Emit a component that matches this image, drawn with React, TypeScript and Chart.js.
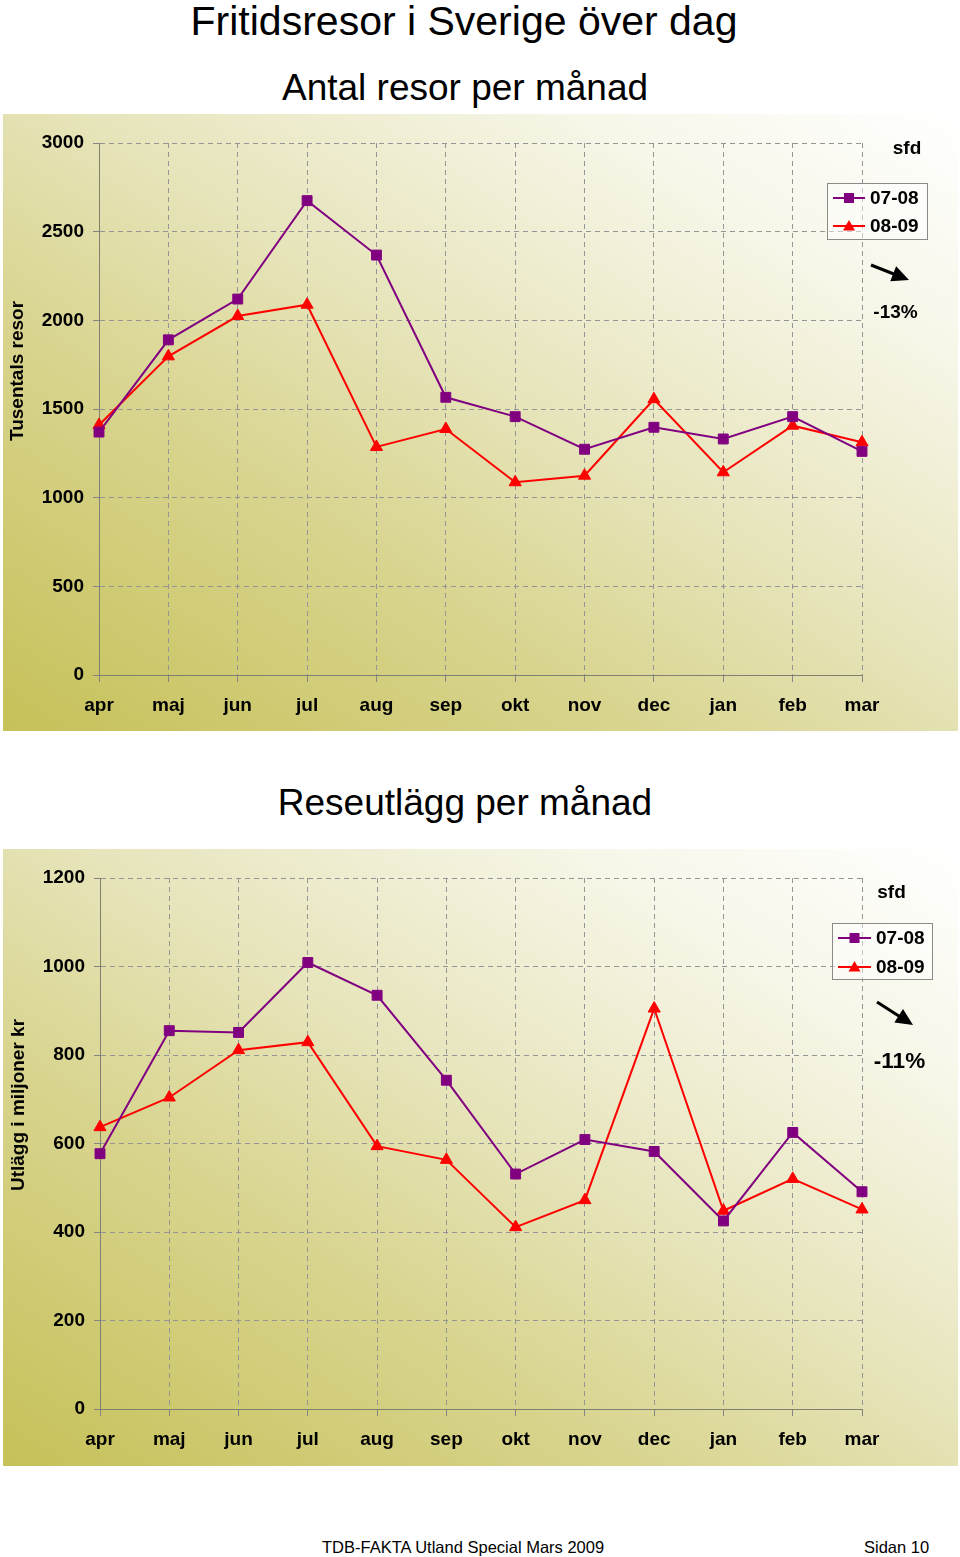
import React, { useEffect, useRef } from 'react';
import { Chart, registerables } from 'chart.js';

Chart.register(...registerables);

// ---------- DATA ----------
const months = ['apr', 'maj', 'jun', 'jul', 'aug', 'sep', 'okt', 'nov', 'dec', 'jan', 'feb', 'mar'];
const seriesLabels = ['07-08', '08-09'];

const trips0708 = [1370, 1890, 2120, 2675, 2368, 1566, 1457, 1273, 1397, 1331, 1457, 1261];
const trips0809 = [1410, 1797, 2024, 2088, 1286, 1387, 1087, 1124, 1555, 1143, 1406, 1312];
const tripsMax = 3000;
const tripsStep = 500;

const spend0708 = [577, 855, 851, 1009, 935, 743, 531, 609, 582, 425, 625, 491];
const spend0809 = [637, 704, 811, 829, 594, 563, 411, 472, 905, 448, 520, 451];
const spendMax = 1200;
const spendStep = 200;

const mainTitle = 'Fritidsresor i Sverige över dag';
const tripsTitle = 'Antal resor per månad';
const spendTitle = 'Reseutlägg per månad';
const tripsAxisTitle = 'Tusentals resor';
const spendAxisTitle = 'Utlägg i miljoner kr';
const tripsChange = '-13%';
const spendChange = '-11%';
const adjLabel = 'sfd';
const footerLeft = 'TDB-FAKTA Utland Special Mars 2009';
const footerRight = 'Sidan 10';

// ---------- STYLE ----------
const FONT = '"Liberation Sans", Arial, Helvetica, sans-serif';
const PURPLE = '#800080';
const RED = '#ff0000';
const CANVAS_W = 955;
const CANVAS_H = 617;

interface PanelCfg {
  top: number;
  yMax: number;
  yStep: number;
  yTitle: string;
  yTitlePos: [number, number];
  axisWidth: number;
  axisHeight: number;
  sfdPos: [number, number];
  legend: { x: number; y: number; w: number; h: number; rows: number[]; lx1: number; lx2: number; tx: number };
  arrow: { x1: number; y1: number; x2: number; y2: number };
  pct: { text: string; x: number; y: number; size: number };
  s1: number[];
  s2: number[];
}

const bgPlugin = {
  id: 'panelBg',
  beforeDraw(chart: any) {
    const { ctx, width, height } = chart;
    ctx.save();
    ctx.scale(width, height);
    const g = ctx.createLinearGradient(0, 1, 1, 0);
    g.addColorStop(0, '#c6c158');
    g.addColorStop(0.33, '#d8d48e');
    g.addColorStop(0.55, '#e7e5bc');
    g.addColorStop(0.8, '#f7f6e8');
    g.addColorStop(1, '#ffffff');
    ctx.fillStyle = g;
    ctx.fillRect(0, 0, 1, 1);
    ctx.restore();
  },
};

function drawMarker(ctx: CanvasRenderingContext2D, style: string, x: number, y: number, color: string) {
  ctx.fillStyle = color;
  if (style === 'rect') {
    ctx.fillRect(x - 5, y - 5, 10, 10);
  } else {
    ctx.beginPath();
    ctx.moveTo(x, y - 6);
    ctx.lineTo(x + 6, y + 4.5);
    ctx.lineTo(x - 6, y + 4.5);
    ctx.closePath();
    ctx.fill();
  }
}

function makeDecorPlugin(cfg: PanelCfg) {
  return {
    id: 'decor',
    afterDraw(chart: any) {
      const ctx: CanvasRenderingContext2D = chart.ctx;
      ctx.save();
      ctx.fillStyle = '#000';
      // y axis title
      ctx.save();
      ctx.translate(cfg.yTitlePos[0], cfg.yTitlePos[1]);
      ctx.rotate(-Math.PI / 2);
      ctx.font = `bold 19px ${FONT}`;
      ctx.textAlign = 'center';
      ctx.textBaseline = 'middle';
      ctx.fillText(cfg.yTitle, 0, 0);
      ctx.restore();

      // sfd
      ctx.font = `bold 19px ${FONT}`;
      ctx.textAlign = 'center';
      ctx.textBaseline = 'middle';
      ctx.fillText(adjLabel, cfg.sfdPos[0], cfg.sfdPos[1]);

      // legend
      const L = cfg.legend;
      ctx.fillStyle = 'rgba(255,255,255,0.45)';
      ctx.fillRect(L.x, L.y, L.w, L.h);
      ctx.strokeStyle = '#8a8a8a';
      ctx.lineWidth = 1;
      ctx.strokeRect(L.x + 0.5, L.y + 0.5, L.w, L.h);
      chart.data.datasets.forEach((ds: any, i: number) => {
        const ry = L.rows[i];
        ctx.strokeStyle = ds.borderColor;
        ctx.lineWidth = 2;
        ctx.beginPath();
        ctx.moveTo(L.lx1, ry);
        ctx.lineTo(L.lx2, ry);
        ctx.stroke();
        drawMarker(ctx, ds.pointStyle, (L.lx1 + L.lx2) / 2, ry, ds.borderColor);
        ctx.fillStyle = '#000';
        ctx.font = `bold 19px ${FONT}`;
        ctx.textAlign = 'left';
        ctx.textBaseline = 'middle';
        ctx.fillText(ds.label, L.tx, ry + 1);
      });

      // arrow
      const A = cfg.arrow;
      const ang = Math.atan2(A.y2 - A.y1, A.x2 - A.x1);
      const headLen = 17;
      const headW = 8;
      const bx = A.x2 - Math.cos(ang) * headLen;
      const by = A.y2 - Math.sin(ang) * headLen;
      ctx.strokeStyle = '#000';
      ctx.lineWidth = 3;
      ctx.beginPath();
      ctx.moveTo(A.x1, A.y1);
      ctx.lineTo(bx + Math.cos(ang) * 2, by + Math.sin(ang) * 2);
      ctx.stroke();
      ctx.fillStyle = '#000';
      ctx.beginPath();
      ctx.moveTo(A.x2, A.y2);
      ctx.lineTo(bx - Math.sin(ang) * headW, by + Math.cos(ang) * headW);
      ctx.lineTo(bx + Math.sin(ang) * headW, by - Math.cos(ang) * headW);
      ctx.closePath();
      ctx.fill();

      // percentage
      ctx.font = `bold ${cfg.pct.size}px ${FONT}`;
      ctx.textAlign = 'center';
      ctx.textBaseline = 'middle';
      ctx.fillText(cfg.pct.text, cfg.pct.x, cfg.pct.y);
      ctx.restore();
    },
  };
}

function Panel({ cfg }: { cfg: PanelCfg }) {
  const ref = useRef<HTMLCanvasElement | null>(null);
  useEffect(() => {
    if (!ref.current) return;
    const tickFont = { family: FONT, size: 19, weight: 'bold' as const };
    const gridCommon = { color: '#959595', lineWidth: 1, drawTicks: true, tickColor: '#858585' };
    const borderCommon = { display: true, color: '#808070', width: 1, dash: [5, 4] };
    const chart = new Chart(ref.current, {
      type: 'line',
      data: {
        labels: months,
        datasets: [
          {
            label: seriesLabels[0],
            data: cfg.s1,
            borderColor: PURPLE,
            backgroundColor: PURPLE,
            pointBackgroundColor: PURPLE,
            pointBorderColor: PURPLE,
            pointStyle: 'rect',
            pointRadius: 7,
            pointBorderWidth: 1,
            borderWidth: 2,
            tension: 0,
            fill: false,
          },
          {
            label: seriesLabels[1],
            data: cfg.s2,
            borderColor: RED,
            backgroundColor: RED,
            pointBackgroundColor: RED,
            pointBorderColor: RED,
            pointStyle: 'triangle',
            pointRadius: 7,
            pointBorderWidth: 1,
            borderWidth: 2,
            tension: 0,
            fill: false,
          },
        ],
      },
      options: {
        animation: false,
        responsive: false,
        maintainAspectRatio: false,
        events: [],
        layout: { padding: { left: 0, top: 29, right: CANVAS_W - 859, bottom: 0 } },
        plugins: { legend: { display: false }, tooltip: { enabled: false }, title: { display: false } },
        scales: {
          x: {
            type: 'category',
            offset: false,
            grid: { ...gridCommon, tickLength: 7 },
            border: borderCommon,
            ticks: { color: '#000', font: tickFont, padding: 12, maxRotation: 0, autoSkip: false },
            afterFit: (s: any) => {
              s.height = cfg.axisHeight;
            },
          },
          y: {
            min: 0,
            max: cfg.yMax,
            grid: { ...gridCommon, tickLength: 6 },
            border: borderCommon,
            ticks: {
              color: '#000',
              font: tickFont,
              padding: 9,
              stepSize: cfg.yStep,
              callback: (v: any) => String(v),
            },
            afterFit: (s: any) => {
              s.width = cfg.axisWidth;
            },
          },
        },
      },
      plugins: [bgPlugin, makeDecorPlugin(cfg)],
    } as any);
    return () => chart.destroy();
  }, [cfg]);
  return (
    <canvas
      ref={ref}
      width={CANVAS_W}
      height={CANVAS_H}
      style={{ position: 'absolute', left: 3, top: cfg.top, width: CANVAS_W, height: CANVAS_H }}
    />
  );
}

const panel1: PanelCfg = {
  top: 114,
  yMax: tripsMax,
  yStep: tripsStep,
  yTitle: tripsAxisTitle,
  yTitlePos: [15, 257],
  axisWidth: 96,
  axisHeight: CANVAS_H - 561,
  sfdPos: [904, 35],
  legend: { x: 824, y: 69, w: 100, h: 56, rows: [84, 112], lx1: 830, lx2: 862, tx: 867 },
  arrow: { x1: 868, y1: 151, x2: 906, y2: 166 },
  pct: { text: tripsChange, x: 892.5, y: 199, size: 19 },
  s1: trips0708,
  s2: trips0809,
};

const panel2: PanelCfg = {
  top: 849,
  yMax: spendMax,
  yStep: spendStep,
  yTitle: spendAxisTitle,
  yTitlePos: [16, 256],
  axisWidth: 97,
  axisHeight: CANVAS_H - 560,
  sfdPos: [888.5, 44],
  legend: { x: 829, y: 74, w: 100, h: 56, rows: [89, 118], lx1: 835, lx2: 868, tx: 873 },
  arrow: { x1: 874, y1: 153, x2: 910, y2: 176 },
  pct: { text: spendChange, x: 896.5, y: 213, size: 22.5 },
  s1: spend0708,
  s2: spend0809,
};

export default function App() {
  const textStyle = (top: number, size: number, left: number, width: number, align: 'center' | 'left' = 'center') => ({
    position: 'absolute' as const,
    top,
    left,
    width,
    fontSize: size,
    lineHeight: 1,
    textAlign: align,
    fontFamily: FONT,
    color: '#000',
    whiteSpace: 'nowrap' as const,
  });
  return (
    <div style={{ position: 'absolute', left: 0, top: 0, width: 960, height: 1557, background: '#fff', overflow: 'hidden', fontFamily: FONT }}>
      <div style={textStyle(35.5 - 41 * 0.8465, 41, 0, 928)}>{mainTitle}</div>
      <div style={textStyle(100 - 37 * 0.8465, 37, 0, 930)}>{tripsTitle}</div>
      <Panel cfg={panel1} />
      <div style={textStyle(815 - 37 * 0.8465, 37, 0, 930)}>{spendTitle}</div>
      <Panel cfg={panel2} />
      <div style={textStyle(1553 - 16.5 * 0.8465, 16.5, 322, 300, 'left')}>{footerLeft}</div>
      <div style={textStyle(1553 - 16.5 * 0.8465, 16.5, 864, 100, 'left')}>{footerRight}</div>
    </div>
  );
}
